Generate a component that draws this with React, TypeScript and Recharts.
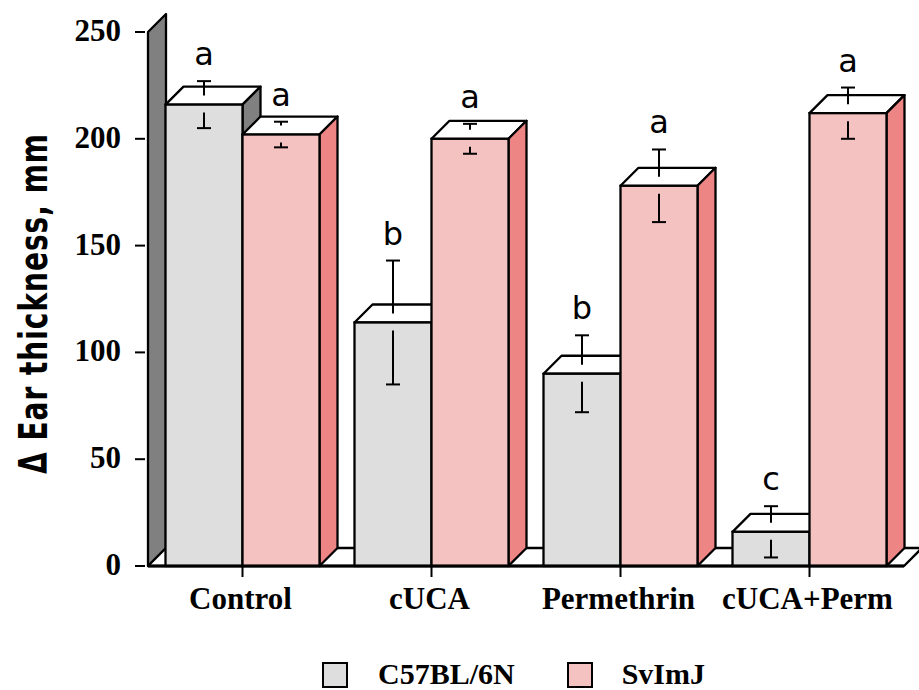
import { BarChart, Bar, XAxis, YAxis, ReferenceArea, Legend } from "recharts";

// group names and measured means / errors (Δ ear thickness)
const categories = ["Control", "cUCA", "Permethrin", "cUCA+Perm"];
const c57Values = [216, 114, 90, 16];
const c57Errors = [11, 29, 18, 12];
const c57Letters = ["a", "b", "b", "c"];
const svValues = [202, 200, 178, 212];
const svErrors = [6, 7, 17, 12];
const svLetters = ["a", "a", "a", "a"];
const yTicks = [0, 50, 100, 150, 200, 250];

const data = categories.map((name, i) => ({
  name,
  c57: c57Values[i],
  c57Err: c57Errors[i],
  c57Letter: c57Letters[i],
  sv: svValues[i],
  svErr: svErrors[i],
  svLetter: svLetters[i],
}));

const D = 18; // fake 3d depth
const SW = 2.3;
const SERIF = "'Liberation Serif', 'Times New Roman', serif";

// 3d box + split error bar + significance letter
const makeBar3D =
  (key: string, front: string, side: string) => (props: any) => {
    const { x, y, width, height, payload } = props;
    const v = payload[key];
    const err = payload[key + "Err"];
    const letter = payload[key + "Letter"];
    const yb = y + height;
    const k = v ? height / v : 0;
    const yAt = (val: number) => yb - val * k;
    const cx = x + width / 2;
    const yHi = yAt(v + err);
    const yLo = yAt(v - err);
    const lowStart = Math.min(y + 8, yLo);
    return (
      <g>
        <polygon
          points={`${x},${y} ${x + D},${y - D} ${x + width + D},${y - D} ${x + width},${y}`}
          fill="#ffffff"
          stroke="#000"
          strokeWidth={SW}
          strokeLinejoin="round"
        />
        <polygon
          points={`${x + width},${y} ${x + width + D},${y - D} ${x + width + D},${yb - D} ${x + width},${yb}`}
          fill={side}
          stroke="#000"
          strokeWidth={SW}
          strokeLinejoin="round"
        />
        <rect x={x} y={y} width={width} height={height} fill={front} stroke="#000" strokeWidth={SW} />
        {/* upper half of the error bar */}
        <line x1={cx} x2={cx} y1={yHi} y2={y - D / 2} stroke="#000" strokeWidth={2} />
        <line x1={cx - 7} x2={cx + 7} y1={yHi} y2={yHi} stroke="#000" strokeWidth={2} />
        {/* lower half */}
        <line x1={cx} x2={cx} y1={lowStart} y2={yLo} stroke="#000" strokeWidth={2} />
        <line x1={cx - 7} x2={cx + 7} y1={yLo} y2={yLo} stroke="#000" strokeWidth={2} />
        <text x={cx} y={yHi - 16} textAnchor="middle" fontFamily="'DejaVu Sans', sans-serif" fontSize={32} fill="#000">
          {letter}
        </text>
      </g>
    );
  };

// back wall + floor
const Stage = (props: any) => {
  const { x, y, width, height } = props;
  const yb = y + height;
  return (
    <g>
      <polygon
        points={`${x},${y} ${x + D},${y - D} ${x + D},${yb - D} ${x},${yb}`}
        fill="#808080"
        stroke="#000"
        strokeWidth={SW}
        strokeLinejoin="round"
      />
      <polygon
        points={`${x},${yb} ${x + D},${yb - D} ${x + width + D},${yb - D} ${x + width},${yb}`}
        fill="#ffffff"
        stroke="#000"
        strokeWidth={SW}
        strokeLinejoin="round"
      />
    </g>
  );
};

const YTick = ({ x, y, payload }: any) => (
  <g>
    <line x1={x - 13} x2={x - 3} y1={y} y2={y} stroke="#000" strokeWidth={2} />
    <text x={x - 27} y={y + 9} textAnchor="end" fontFamily={SERIF} fontWeight="bold" fontSize={31} fill="#000">
      {payload.value}
    </text>
  </g>
);

const XTick = ({ x, y, payload }: any) => (
  <g>
    <line x1={x} x2={x} y1={y} y2={y + 11} stroke="#000" strokeWidth={2} />
    <text x={x - 2} y={y + 43} textAnchor="middle" fontFamily={SERIF} fontWeight="bold" fontSize={31} fill="#000">
      {payload.value}
    </text>
  </g>
);

const YTitle = (props: any) => {
  const vb = props.viewBox || { x: 0, y: 32, width: 148, height: 534 };
  const tx = vb.x + 47;
  const cy = vb.y + vb.height / 2 + 4.5;
  return (
    <text
      transform={`translate(${tx},${cy}) rotate(-90) scale(1,1.4)`}
      textAnchor="middle"
      fontFamily="'DejaVu Sans', Verdana, sans-serif"
      fontWeight="bold"
      fontSize={28}
      letterSpacing={1}
      fill="#000"
    >
      Δ Ear thickness, mm
    </text>
  );
};

const swatch = (color: string) => ({
  width: 26,
  height: 26,
  boxSizing: "border-box" as const,
  border: "2px solid #000",
  background: color,
});

const LegendBox = () => (
  <div
    style={{
      height: 50,
      boxSizing: "border-box",
      paddingTop: 22,
      paddingLeft: 322,
      display: "flex",
      alignItems: "flex-start",
      fontFamily: SERIF,
      fontWeight: "bold",
      fontSize: 30,
      lineHeight: "24px",
      color: "#000",
    }}
  >
    <div style={swatch("#dedede")} />
    <span style={{ marginLeft: 30 }}>C57BL/6N</span>
    <div style={{ ...swatch("#f5c2c2"), marginLeft: 52 }} />
    <span style={{ marginLeft: 29 }}>SvImJ</span>
  </div>
);

const App = () => {
  return (
    <div style={{ position: "absolute", left: 0, top: 0 }}>
      <BarChart
        width={919}
        height={690}
        data={data}
        margin={{ top: 32, right: 15, bottom: 0, left: 0 }}
        barCategoryGap={17.5}
        barGap={0}
      >
        <XAxis
          dataKey="name"
          height={74}
          interval={0}
          tickSize={0}
          tickMargin={0}
          tickLine={false}
          axisLine={{ stroke: "#000", strokeWidth: 3 }}
          tick={<XTick />}
        />
        <YAxis
          type="number"
          domain={[0, 250]}
          ticks={yTicks}
          interval={0}
          width={148}
          tickSize={0}
          tickMargin={0}
          tickLine={false}
          axisLine={false}
          tick={<YTick />}
          label={<YTitle />}
        />
        <ReferenceArea y1={0} y2={250} ifOverflow="visible" shape={<Stage />} />
        <Legend verticalAlign="bottom" wrapperStyle={{ left: 0 }} content={<LegendBox />} />
        <Bar
          dataKey="c57"
          name="C57BL/6N"
          fill="#dedede"
          isAnimationActive={false}
          shape={makeBar3D("c57", "#dedede", "#808080")}
        />
        <Bar
          dataKey="sv"
          name="SvImJ"
          fill="#f5c2c2"
          isAnimationActive={false}
          shape={makeBar3D("sv", "#f5c2c2", "#ee8585")}
        />
      </BarChart>
    </div>
  );
};

export default App;
